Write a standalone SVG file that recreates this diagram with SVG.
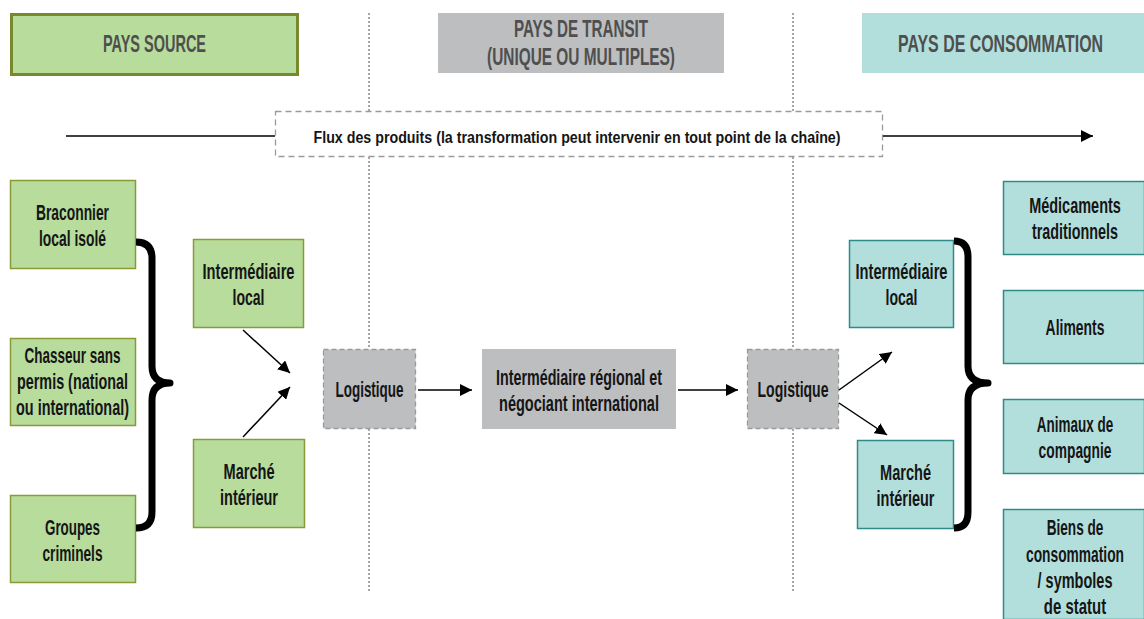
<svg xmlns="http://www.w3.org/2000/svg" width="1144" height="619" viewBox="0 0 1144 619">
<style>
text{font-family:"Liberation Sans Narrow","Liberation Sans",Arial,sans-serif;font-weight:bold;text-anchor:middle}
.t{font-size:22px;fill:#151515}
.h{font-size:23.5px;fill:#4f4f4f}
.f{font-size:16px;fill:#151515}
.green{fill:#b7dc9c;stroke:#8a9a36;stroke-width:1.5}
.teal{fill:#b2dfdb;stroke:#2e8c88;stroke-width:1.5}
.gray{fill:#bcbec0}
.logi{fill:#bcbec0;stroke:#9a9a9a;stroke-width:1.3;stroke-dasharray:5 3}
.sep{stroke:#8a8a8a;stroke-width:1.5;stroke-dasharray:2 2;fill:none}
.arr{stroke:#000;stroke-width:1.5;fill:none;marker-end:url(#ah)}
.brace{stroke:#000;stroke-width:7;fill:none;stroke-linejoin:round}
</style>
<defs>
<marker id="ah" viewBox="0 0 10 10" refX="10" refY="5" markerUnits="userSpaceOnUse" markerWidth="12" markerHeight="12" orient="auto">
<path d="M0,0 L10,5 L0,10 z" fill="#000"/>
</marker>
</defs>
<rect width="1144" height="619" fill="#fff"/>

<g id="separators">
<line class="sep" x1="369" y1="13" x2="369" y2="111"/>
<line class="sep" x1="369" y1="157" x2="369" y2="349"/>
<line class="sep" x1="369" y1="429" x2="369" y2="592"/>
<line class="sep" x1="793" y1="13" x2="793" y2="111"/>
<line class="sep" x1="793" y1="157" x2="793" y2="349"/>
<line class="sep" x1="793" y1="429" x2="793" y2="592"/>
</g>

<g id="hdr-source">
<rect x="11.5" y="14.5" width="286" height="60" fill="#b7dc9c" stroke="#77892a" stroke-width="3"/>
<text class="h" x="154.5" y="52" textLength="103" lengthAdjust="spacingAndGlyphs">PAYS SOURCE</text>
</g>
<g id="hdr-transit">
<rect x="438" y="13" width="286" height="60" fill="#bcbec0"/>
<text class="h" x="581" y="37" textLength="134" lengthAdjust="spacingAndGlyphs">PAYS DE TRANSIT</text>
<text class="h" x="581" y="65" textLength="188" lengthAdjust="spacingAndGlyphs">(UNIQUE OU MULTIPLES)</text>
</g>
<g id="hdr-consommation">
<rect x="862" y="13" width="282" height="60" fill="#b2dfdb"/>
<g transform="translate(1000.5 0) scale(0.7 1)">
<text class="h" x="0" y="52" textLength="293" lengthAdjust="spacingAndGlyphs">PAYS DE CONSOMMATION</text>
</g>
</g>

<g id="flow">
<rect x="275.5" y="111.5" width="607" height="45" fill="#fff" stroke="#9a9a9a" stroke-width="1.3" stroke-dasharray="6 4"/>
<text class="f" x="577" y="143" textLength="527" lengthAdjust="spacingAndGlyphs">Flux des produits (la transformation peut intervenir en tout point de la chaîne)</text>
</g>

<g id="braconnier">
<rect class="green" x="10.5" y="180.5" width="125" height="88"/>
<text class="t" x="72.5" y="220" textLength="73" lengthAdjust="spacingAndGlyphs">Braconnier</text>
<text class="t" x="72.5" y="246" textLength="67" lengthAdjust="spacingAndGlyphs">local isolé</text>
</g>
<g id="chasseur">
<rect class="green" x="10.5" y="338.5" width="125" height="87"/>
<text class="t" x="72.5" y="363" textLength="96" lengthAdjust="spacingAndGlyphs">Chasseur sans</text>
<text class="t" x="72.5" y="389" textLength="111" lengthAdjust="spacingAndGlyphs">permis (national</text>
<text class="t" x="72.5" y="415" textLength="113" lengthAdjust="spacingAndGlyphs">ou international)</text>
</g>
<g id="groupes">
<rect class="green" x="10.5" y="495.5" width="125" height="87"/>
<text class="t" x="72.5" y="535" textLength="55" lengthAdjust="spacingAndGlyphs">Groupes</text>
<text class="t" x="72.5" y="561" textLength="60" lengthAdjust="spacingAndGlyphs">criminels</text>
</g>
<g id="src-intermediaire">
<rect class="green" x="193.5" y="239.5" width="110" height="88"/>
<text class="t" x="248.5" y="279" textLength="92" lengthAdjust="spacingAndGlyphs">Intermédiaire</text>
<text class="t" x="248.5" y="305" textLength="32" lengthAdjust="spacingAndGlyphs">local</text>
</g>
<g id="src-marche">
<rect class="green" x="193.5" y="439.5" width="111" height="88"/>
<text class="t" x="249" y="479" textLength="51" lengthAdjust="spacingAndGlyphs">Marché</text>
<text class="t" x="249" y="505" textLength="58" lengthAdjust="spacingAndGlyphs">intérieur</text>
</g>

<g id="logistique-1">
<rect class="logi" x="323.5" y="349.5" width="92" height="79"/>
<text class="t" x="369.5" y="397" textLength="68" lengthAdjust="spacingAndGlyphs">Logistique</text>
</g>
<g id="intermediaire-regional">
<rect class="gray" x="482" y="349" width="194" height="80"/>
<text class="t" x="579" y="385" textLength="166" lengthAdjust="spacingAndGlyphs">Intermédiaire régional et</text>
<text class="t" x="579" y="411" textLength="160" lengthAdjust="spacingAndGlyphs">négociant international</text>
</g>
<g id="logistique-2">
<rect class="logi" x="747.5" y="349.5" width="91" height="79"/>
<text class="t" x="793" y="397" textLength="71" lengthAdjust="spacingAndGlyphs">Logistique</text>
</g>

<g id="dst-intermediaire">
<rect class="teal" x="849.5" y="240.5" width="104" height="87"/>
<text class="t" x="901.5" y="279" textLength="92" lengthAdjust="spacingAndGlyphs">Intermédiaire</text>
<text class="t" x="901.5" y="305" textLength="32" lengthAdjust="spacingAndGlyphs">local</text>
</g>
<g id="dst-marche">
<rect class="teal" x="857.5" y="440.5" width="96" height="88"/>
<text class="t" x="905.5" y="480" textLength="51" lengthAdjust="spacingAndGlyphs">Marché</text>
<text class="t" x="905.5" y="506" textLength="58" lengthAdjust="spacingAndGlyphs">intérieur</text>
</g>

<g id="medicaments">
<rect class="teal" x="1003.5" y="181.5" width="141" height="73"/>
<g transform="translate(1075 0) scale(0.7 1)">
<text class="t" x="0" y="213" textLength="131" lengthAdjust="spacingAndGlyphs">Médicaments</text>
<text class="t" x="0" y="239" textLength="123" lengthAdjust="spacingAndGlyphs">traditionnels</text>
</g>
</g>
<g id="aliments">
<rect class="teal" x="1003.5" y="290.5" width="141" height="73"/>
<g transform="translate(1075 0) scale(0.7 1)">
<text class="t" x="0" y="335" textLength="84" lengthAdjust="spacingAndGlyphs">Aliments</text>
</g>
</g>
<g id="animaux">
<rect class="teal" x="1003.5" y="399.5" width="141" height="74"/>
<g transform="translate(1075 0) scale(0.7 1)">
<text class="t" x="0" y="432" textLength="109" lengthAdjust="spacingAndGlyphs">Animaux de</text>
<text class="t" x="0" y="458" textLength="104" lengthAdjust="spacingAndGlyphs">compagnie</text>
</g>
</g>
<g id="biens">
<rect class="teal" x="1003.5" y="509.5" width="141" height="110"/>
<g transform="translate(1075 0) scale(0.7 1)">
<text class="t" x="0" y="535" textLength="81" lengthAdjust="spacingAndGlyphs">Biens de</text>
<text class="t" x="0" y="562" textLength="140" lengthAdjust="spacingAndGlyphs">consommation</text>
<text class="t" x="0" y="588" textLength="107" lengthAdjust="spacingAndGlyphs">/ symboles</text>
<text class="t" x="0" y="614" textLength="89" lengthAdjust="spacingAndGlyphs">de statut</text>
</g>
</g>

<g id="connectors">
<line x1="66" y1="136" x2="275" y2="136" stroke="#000" stroke-width="1.5"/>
<line class="arr" x1="883" y1="136" x2="1093" y2="136"/>
<path class="brace" d="M136,242 Q152,242 152,258 L152,366 Q152,383 170,383 Q152,383 152,400 L152,512 Q152,528 136,528"/>
<path class="brace" d="M954,241 Q968,241 968,257 L968,366 Q968,383 988,383 Q968,383 968,400 L968,512 Q968,528 954,528"/>
<line class="arr" x1="243" y1="330" x2="290" y2="373"/>
<line class="arr" x1="243" y1="437" x2="290" y2="387"/>
<line class="arr" x1="418" y1="390" x2="472" y2="390"/>
<line class="arr" x1="678" y1="390" x2="738" y2="390"/>
<line class="arr" x1="839" y1="390" x2="892" y2="352"/>
<line class="arr" x1="839" y1="403" x2="887" y2="435"/>
</g>
</svg>
